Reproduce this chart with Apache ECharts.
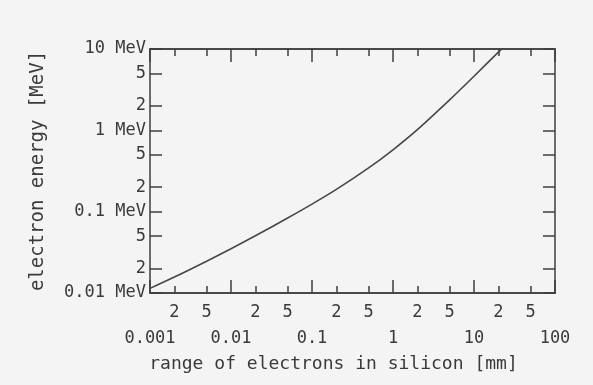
<!DOCTYPE html>
<html><head><meta charset="utf-8">
<script src="https://cdn.jsdelivr.net/npm/echarts@6/dist/echarts.min.js"></script>
<style>html,body{margin:0;padding:0;background:#f4f4f4}#c{width:593px;height:385px}</style>
</head><body><div id="c"></div>
<script>
// ---- data ----
const rangeMM   = [0.001, 0.002, 0.005, 0.01, 0.02, 0.05, 0.1, 0.2, 0.5, 1, 2, 5, 10, 20, 22];
const energyMeV = [0.0114, 0.0157, 0.0246, 0.035, 0.0505, 0.0836, 0.124, 0.188, 0.345, 0.577, 1.02, 2.37, 4.63, 9.14, 10];

const xMajorTicks  = [0.001, 0.01, 0.1, 1, 10, 100];
const xMajorLabels = ['0.001', '0.01', '0.1', '1', '10', '100'];
const xMinorTicks  = [0.002, 0.005, 0.02, 0.05, 0.2, 0.5, 2, 5, 20, 50];
const xMinorLabels = ['2', '5', '2', '5', '2', '5', '2', '5', '2', '5'];
const yTicks  = [0.01, 0.02, 0.05, 0.1, 0.2, 0.5, 1, 2, 5, 10];
const yLabels = ['0.01 MeV', '2', '5', '0.1 MeV', '2', '5', '1 MeV', '2', '5', '10 MeV'];
const xTitle = 'range of electrons in silicon [mm]';
const yTitle = 'electron energy [MeV]';

// ---- chart ----
const FONT = 'DejaVu Sans Mono';
const INK = '#3a3a3a';
const LINE = '#3e3e3e';

function lookup(ticks, labels) {
  return function (v) {
    for (let i = 0; i < ticks.length; i++) {
      if (Math.abs(Math.log10(v) - Math.log10(ticks[i])) < 1e-6) return labels[i];
    }
    return '';
  };
}

function xAxisDef(position, ticks, len, labels, margin) {
  return {
    type: 'log', logBase: 10, min: 0.001, max: 100, position: position,
    axisLine: { show: true, lineStyle: { color: LINE, width: 1.5 } },
    axisTick: { show: true, inside: true, length: len, customValues: ticks, lineStyle: { color: LINE, width: 1.5 } },
    axisLabel: labels ? {
      show: true, customValues: ticks, margin: margin, formatter: lookup(ticks, labels),
      fontFamily: FONT, fontSize: 17, color: INK
    } : { show: false },
    splitLine: { show: false }, minorTick: { show: false }
  };
}
function yAxisDef(position, withLabels) {
  return {
    type: 'log', logBase: 10, min: 0.01, max: 10, position: position,
    axisLine: { show: true, lineStyle: { color: LINE, width: 1.5 } },
    axisTick: { show: true, inside: true, length: 12, customValues: yTicks, lineStyle: { color: LINE, width: 1.5 } },
    axisLabel: withLabels ? {
      show: true, customValues: yTicks, margin: 4, formatter: lookup(yTicks, yLabels),
      fontFamily: FONT, fontSize: 17, color: INK
    } : { show: false },
    splitLine: { show: false }, minorTick: { show: false }
  };
}

const xBottomMajor = xAxisDef('bottom', xMajorTicks, 13, xMajorLabels, 37);
xBottomMajor.name = xTitle;
xBottomMajor.nameLocation = 'middle';
xBottomMajor.nameGap = 62;
xBottomMajor.nameTextStyle = { fontFamily: FONT, fontSize: 18, color: INK, padding: [0, 38, 0, 0] };

const yLeft = yAxisDef('left', true);
yLeft.name = yTitle;
yLeft.nameLocation = 'middle';
yLeft.nameGap = 102;
yLeft.nameTextStyle = { fontFamily: FONT, fontSize: 19, color: INK };

const chart = echarts.init(document.getElementById('c'), null, { renderer: 'canvas' });
chart.setOption({
  animation: false,
  backgroundColor: '#f4f4f4',
  grid: { left: 150, right: 38, top: 49, bottom: 92, containLabel: false },
  xAxis: [
    xBottomMajor,
    xAxisDef('bottom', xMinorTicks, 7, xMinorLabels, 11),
    xAxisDef('top', xMajorTicks, 13, null, 0),
    xAxisDef('top', xMinorTicks, 7, null, 0)
  ],
  yAxis: [yLeft, yAxisDef('right', false)],
  series: [{
    type: 'line',
    xAxisIndex: 0, yAxisIndex: 0,
    data: rangeMM.map((x, i) => [x, energyMeV[i]]),
    smooth: 0.3,
    showSymbol: false,
    lineStyle: { color: '#474747', width: 1.6 },
    clip: true
  }]
});
</script>
</body></html>
